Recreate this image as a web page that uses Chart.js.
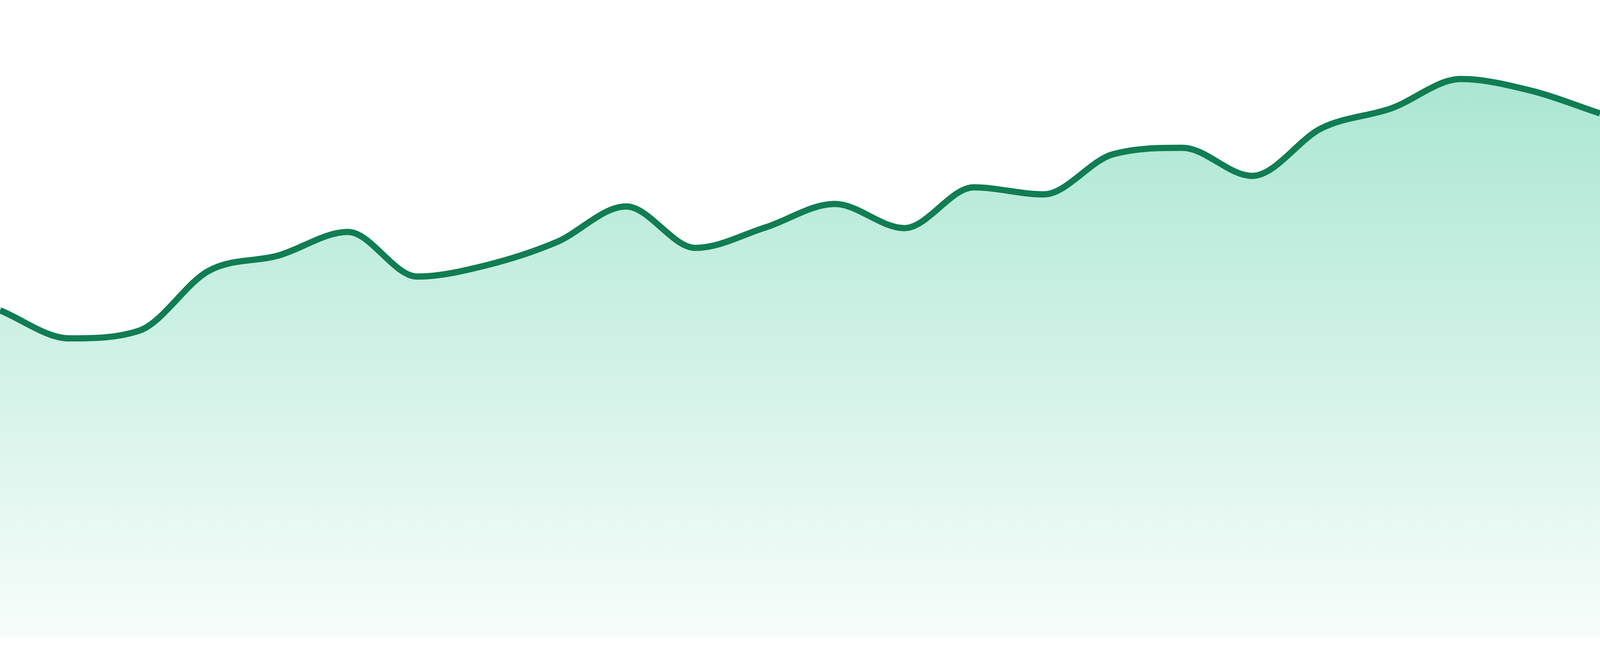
<!DOCTYPE html>
<html lang="en">
<head>
    <meta charset="UTF-8">
    <title>Trend sparkline</title>
    <script src="https://cdn.jsdelivr.net/npm/chart.js"></script>
    <style>
        html, body {
            margin: 0;
            padding: 0;
            background: #ffffff;
            overflow: hidden;
        }
        .chart-wrap {
            position: relative;
            width: 100vw;
            height: 100vh;
        }
    </style>
</head>
<body>
    <div class="chart-wrap">
        <canvas id="trendChart"></canvas>
    </div>
    <script>
        // one point per hour, 24 readings
        var hours = ['00:00', '01:00', '02:00', '03:00', '04:00', '05:00', '06:00', '07:00',
                     '08:00', '09:00', '10:00', '11:00', '12:00', '13:00', '14:00', '15:00',
                     '16:00', '17:00', '18:00', '19:00', '20:00', '21:00', '22:00', '23:00'];
        var values = [51.3, 46.9, 48.1, 57.5, 59.9, 63.6, 56.6, 58.4,
                      62.0, 67.6, 61.1, 64.3, 68.0, 64.2, 70.6, 69.5,
                      75.8, 76.8, 72.4, 79.9, 83.0, 87.6, 85.8, 82.2];
        var axisMin = 0;
        var axisMax = 100;

        var lineColor = '#117d53';

        // sizes were measured on a 1680px tall picture, scale them to the viewport
        var k = window.innerHeight / 1680;

        function areaGradient(context) {
            var chart = context.chart;
            var area = chart.chartArea;
            if (!area) {
                return 'rgba(16, 185, 129, 0.2)';
            }
            var g = chart.ctx.createLinearGradient(0, area.top, 0, area.bottom);
            g.addColorStop(0, 'rgba(16, 185, 129, 0.40)');
            g.addColorStop(1, 'rgba(16, 185, 129, 0.03)');
            return g;
        }

        var ctx = document.getElementById('trendChart').getContext('2d');
        var trendChart = new Chart(ctx, {
            type: 'line',
            data: {
                labels: hours,
                datasets: [{
                    label: 'Value',
                    data: values,
                    borderColor: lineColor,
                    borderWidth: 16 * k,
                    backgroundColor: areaGradient,
                    fill: 'start',
                    cubicInterpolationMode: 'monotone',
                    pointRadius: 0,
                    pointHoverRadius: 0
                }]
            },
            options: {
                responsive: true,
                maintainAspectRatio: false,
                animation: false,
                layout: {
                    padding: { top: 0, right: 0, bottom: 48 * k, left: 0 }
                },
                plugins: {
                    legend: { display: false },
                    tooltip: { enabled: false }
                },
                scales: {
                    x: {
                        display: false,
                        offset: false
                    },
                    y: {
                        display: false,
                        min: axisMin,
                        max: axisMax
                    }
                }
            }
        });
    </script>
</body>
</html>
